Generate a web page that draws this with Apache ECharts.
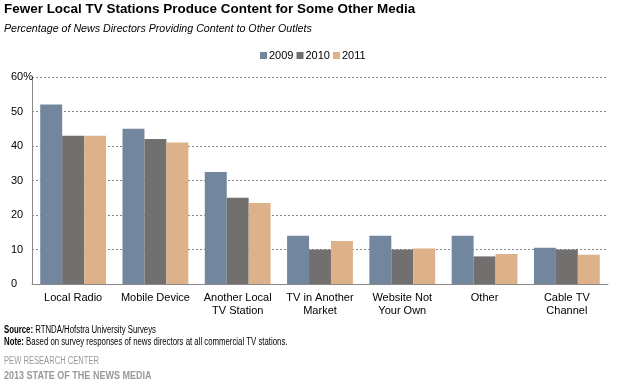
<!DOCTYPE html>
<html><head><meta charset="utf-8">
<script src="https://cdn.jsdelivr.net/npm/echarts@6/dist/echarts.min.js"></script>
<style>html,body{margin:0;padding:0;background:#fff}#c{width:618px;height:388px}</style>
</head><body><div id="c"></div>
<script>
const categories = ['Local Radio','Mobile Device','Another Local\nTV Station','TV in Another\nMarket','Website Not\nYour Own','Other','Cable TV\nChannel'];
const years = ['2009','2010','2011'];
const v2009 = [52, 45, 32.5, 14, 14, 14, 10.5];
const v2010 = [43, 42, 25, 10, 10, 8, 10];
const v2011 = [43, 41, 23.5, 12.5, 10.3, 8.7, 8.5];
const yTicks = [0,10,20,30,40,50,60];
const colors = ['#72869D','#726F6F','#DDB28A'];
const FF = 'Liberation Sans, Arial, sans-serif';
const chart = echarts.init(document.getElementById('c'), null, {renderer:'canvas'});
const series = [v2009, v2010, v2011].map((d,i)=>({
  name: years[i], type:'bar', data:d, barGap:'0%', barCategoryGap:'20%',
  itemStyle:{color:colors[i]}, emphasis:{disabled:true}
}));
const rb = {b:{fontWeight:'bold', fontFamily:FF, fontSize:10}};
chart.setOption({
  animation:false,
  textStyle:{fontFamily:FF},
  grid:{left:32, right:10, top:77, bottom:104, containLabel:false},
  legend:{data:years, left:255, top:45, itemWidth:7, itemHeight:7, itemGap:3, icon:'rect',
    textStyle:{fontSize:11, color:'#000', fontFamily:FF, padding:[0,0,0,-3]}},
  xAxis:{type:'category', data:categories,
    axisLine:{lineStyle:{color:'#888', width:1}}, axisTick:{show:false},
    axisLabel:{fontSize:11, color:'#000', margin:7, lineHeight:13, interval:0, fontFamily:FF}},
  yAxis:{type:'value', min:0, max:60, interval:10,
    axisLine:{show:true, lineStyle:{color:'#888', width:1}}, axisTick:{show:false},
    splitLine:{lineStyle:{color:'#888', type:[2,2], width:1}},
    axisLabel:{fontSize:11, color:'#000', align:'left', margin:21, fontFamily:FF,
      formatter:v=> yTicks.indexOf(v)===yTicks.length-1 ? v+'%' : String(v)}},
  series: series,
  graphic:[
    {type:'text', x:4, y:3, scaleX:1.035, style:{text:'Fewer Local TV Stations Produce Content for Some Other Media', font:'bold 13px '+FF, fill:'#000'}},
    {type:'text', x:4, y:23, scaleX:0.97, style:{text:'Percentage of News Directors Providing Content to Other Outlets', font:'italic 11px '+FF, fill:'#000'}},
    {type:'text', x:4, y:325, scaleX:0.78, style:{text:'{b|Source:} RTNDA/Hofstra University Surveys', font:'10px '+FF, fill:'#000', rich:rb}},
    {type:'text', x:4, y:337, scaleX:0.78, style:{text:'{b|Note:} Based on survey responses of news directors at all commercial TV stations.', font:'10px '+FF, fill:'#000', rich:rb}},
    {type:'text', x:4, y:356, scaleX:0.76, style:{text:'PEW RESEARCH CENTER', font:'10px '+FF, fill:'#999'}},
    {type:'text', x:4, y:370, scaleX:0.82, style:{text:'2013 STATE OF THE NEWS MEDIA', font:'bold 11px '+FF, fill:'#999'}}
  ]
});
</script></body></html>
